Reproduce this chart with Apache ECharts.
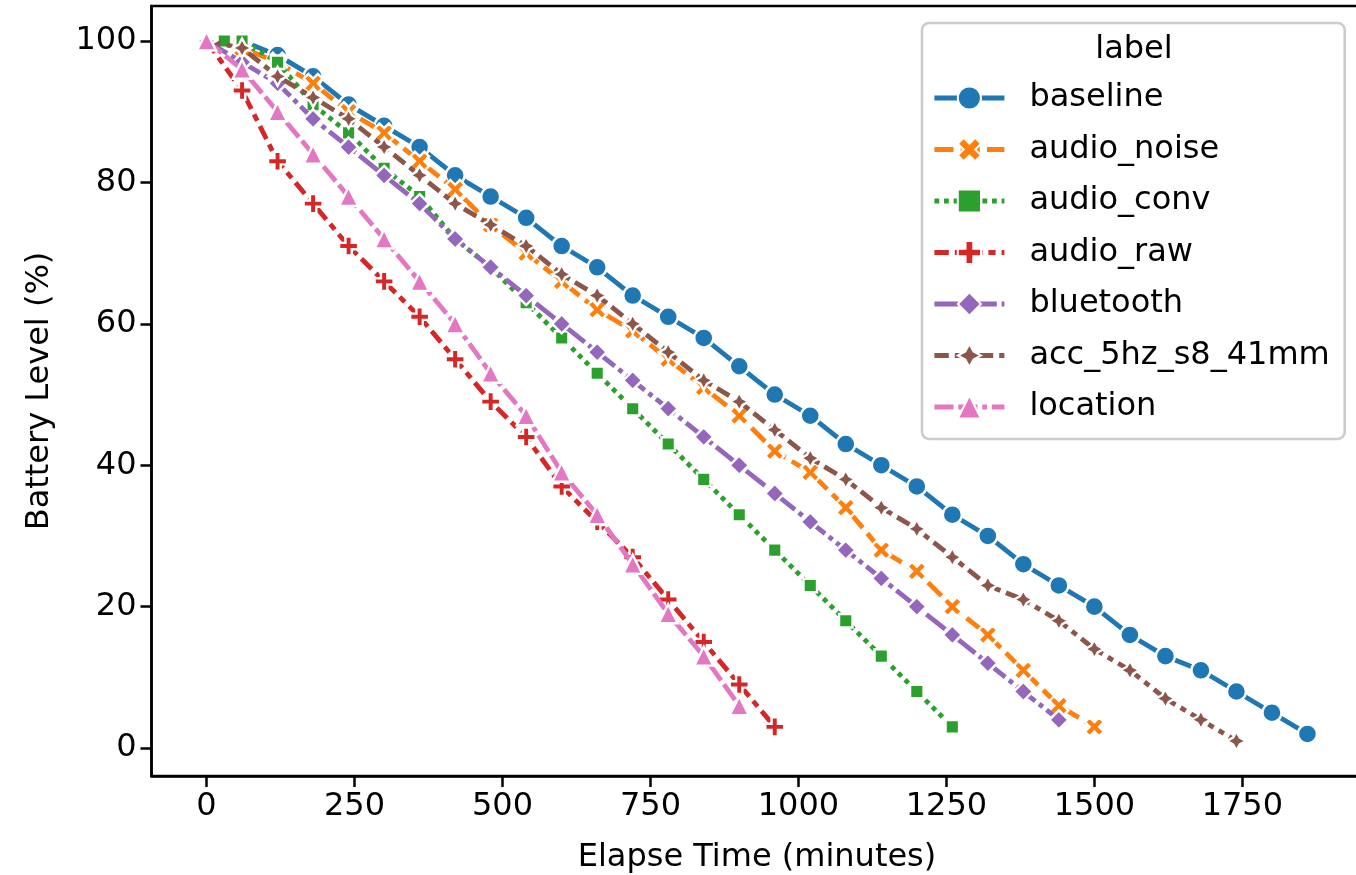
<!DOCTYPE html>
<html>
<head>
<meta charset="utf-8">
<script src="https://cdn.jsdelivr.net/npm/echarts@6/dist/echarts.min.js"></script>
<style>
  html, body { margin: 0; padding: 0; background: #fff; }
  #chart { width: 1356px; height: 875px; }
</style>
</head>
<body>
<div id="chart"></div>
<script>
// ---- data ----
const seriesNames = ['baseline', 'audio_noise', 'audio_conv', 'audio_raw', 'bluetooth', 'acc_5hz_s8_41mm', 'location'];

const baselineTime  = [60,120,180,240,300,360,420,480,540,600,660,720,780,840,900,960,1020,1080,1140,1200,1260,1320,1380,1440,1500,1560,1620,1680,1740,1800,1860];
const baselineLevel = [100,98,95,91,88,85,81,78,75,71,68,64,61,58,54,50,47,43,40,37,33,30,26,23,20,16,13,11,8,5,2];

const noiseTime  = [30,60,120,180,240,300,360,420,480,540,600,660,720,780,840,900,960,1020,1080,1140,1200,1260,1320,1380,1440,1500];
const noiseLevel = [100,99,97,94,90,87,83,79,74,70,66,62,59,55,51,47,42,39,34,28,25,20,16,11,6,3];

const convTime  = [30,60,120,180,240,300,360,420,480,540,600,660,720,780,840,900,960,1020,1080,1140,1200,1260];
const convLevel = [100,100,97,91,87,82,78,72,68,63,58,53,48,43,38,33,28,23,18,13,8,3];

const rawTime  = [0,60,120,180,240,300,360,420,480,540,600,660,720,780,840,900,960];
const rawLevel = [100,93,83,77,71,66,61,55,49,44,37,32,27,21,15,9,3];

const btTime  = [0,60,120,180,240,300,360,420,480,540,600,660,720,780,840,900,960,1020,1080,1140,1200,1260,1320,1380,1440];
const btLevel = [100,97,94,89,85,81,77,72,68,64,60,56,52,48,44,40,36,32,28,24,20,16,12,8,4];

const accTime  = [0,60,120,180,240,300,360,420,480,540,600,660,720,780,840,900,960,1020,1080,1140,1200,1260,1320,1380,1440,1500,1560,1620,1680,1740];
const accLevel = [100,99,95,92,89,85,81,77,74,71,67,64,60,56,52,49,45,41,38,34,31,27,23,21,18,14,11,7,4,1];

const locTime  = [0,60,120,180,240,300,360,420,480,540,600,660,720,780,840,900];
const locLevel = [100,96,90,84,78,72,66,60,53,47,39,33,26,19,13,6];

const xTicks = [0,250,500,750,1000,1250,1500,1750];
const yTicks = [0,20,40,60,80,100];

// ---- styles ----
const FONT = 'DejaVu Sans';
const colors = ['#1f77b4','#ff7f0e','#2ca02c','#d62728','#9467bd','#8c564b','#e377c2'];
const PLUS = 'path://M-1,-3L1,-3L1,-1L3,-1L3,1L1,1L1,3L-1,3L-1,1L-3,1L-3,-1L-1,-1Z';
const XMARK = 'path://M-1,-2L0,-1L1,-2L2,-1L1,0L2,1L1,2L0,1L-1,2L-2,1L-1,0L-2,-1Z';
const STAR4 = 'path://M0,-1L0.3536,-0.3536L1,0L0.3536,0.3536L0,1L-0.3536,0.3536L-1,0L-0.3536,-0.3536Z';
const symbols = ['circle', XMARK, 'rect', PLUS, 'diamond', STAR4, 'triangle'];
const symSizes = [19, 19, 13.5, 19, 19, 19, 19];
const LW = 4.8;
const dashes = [
  'solid',
  [19.1, 7.2],
  [4.8, 4.8],
  [14.4, 6, 7.2, 6],
  [24, 4.8, 4.8, 4.8],
  [14.4, 6, 6, 6, 6, 6],
  [19.1, 4.8, 19.1, 4.8, 4.8, 4.8]
];

function pairs(t, v) { return t.map((x, i) => [x, v[i]]); }
const dataSets = [
  pairs(baselineTime, baselineLevel),
  pairs(noiseTime, noiseLevel),
  pairs(convTime, convLevel),
  pairs(rawTime, rawLevel),
  pairs(btTime, btLevel),
  pairs(accTime, accLevel),
  pairs(locTime, locLevel)
];

const series = seriesNames.map((name, i) => ({
  name: name,
  type: 'line',
  data: dataSets[i],
  z: 2 + i,
  symbol: symbols[i],
  symbolSize: symSizes[i],
  showAllSymbol: true,
  lineStyle: { color: colors[i], width: LW, type: dashes[i] },
  itemStyle: { color: colors[i], borderColor: '#ffffff', borderWidth: 2.4 },
  emphasis: { disabled: true },
  animation: false
}));

const plain = v => String(v);

const chart = echarts.init(document.getElementById('chart'), null, { renderer: 'canvas' });
chart.setOption({
  animation: false,
  backgroundColor: '#ffffff',
  textStyle: { fontFamily: FONT },
  grid: {
    left: 151.5, top: 6, width: 1211, height: 770,
    containLabel: false, outerBoundsMode: 'none',
    show: true, borderColor: '#000', borderWidth: 2.5, backgroundColor: 'transparent'
  },
  xAxis: {
    type: 'value', min: -93, max: 1953,
    name: 'Elapse Time (minutes)', nameLocation: 'middle', nameGap: 66,
    nameTextStyle: { fontFamily: FONT, fontSize: 32, color: '#000' },
    axisLine: { show: true, onZero: false, lineStyle: { color: '#000', width: 2.5 } },
    axisTick: { show: true, length: 11, lineStyle: { color: '#000', width: 2.5 }, customValues: xTicks },
    axisLabel: { show: true, margin: 15, fontFamily: FONT, fontSize: 32, color: '#000', customValues: xTicks, formatter: plain },
    splitLine: { show: false }
  },
  yAxis: {
    type: 'value', min: -3.95, max: 104.95,
    name: 'Battery Level (%)', nameLocation: 'middle', nameGap: 96,
    nameTextStyle: { fontFamily: FONT, fontSize: 32, color: '#000' },
    axisLine: { show: true, onZero: false, lineStyle: { color: '#000', width: 2.5 } },
    axisTick: { show: true, length: 11, lineStyle: { color: '#000', width: 2.5 }, customValues: yTicks },
    axisLabel: { show: true, margin: 15, fontFamily: FONT, fontSize: 32, color: '#000', customValues: yTicks, formatter: plain },
    splitLine: { show: false }
  },
  legend: {
    orient: 'vertical',
    left: 922, top: 23,
    padding: [59, 15, 16, 10],
    itemWidth: 70, itemHeight: 29, itemGap: 19.5,
    backgroundColor: '#fff',
    borderColor: '#cccccc', borderWidth: 2.6, borderRadius: 7,
    lineStyle: { width: LW },
    textStyle: { fontFamily: FONT, fontSize: 32, color: '#000', lineHeight: 29, padding: [0, 0, 0, 20] },
    data: seriesNames,
    selectedMode: false
  },
  graphic: [{
    type: 'text', x: 1134, y: 50, z: 100,
    style: { text: 'label', fontFamily: FONT, fontSize: 32, fill: '#000', align: 'center', verticalAlign: 'middle' }
  }],
  series: series
});
</script>
</body>
</html>
